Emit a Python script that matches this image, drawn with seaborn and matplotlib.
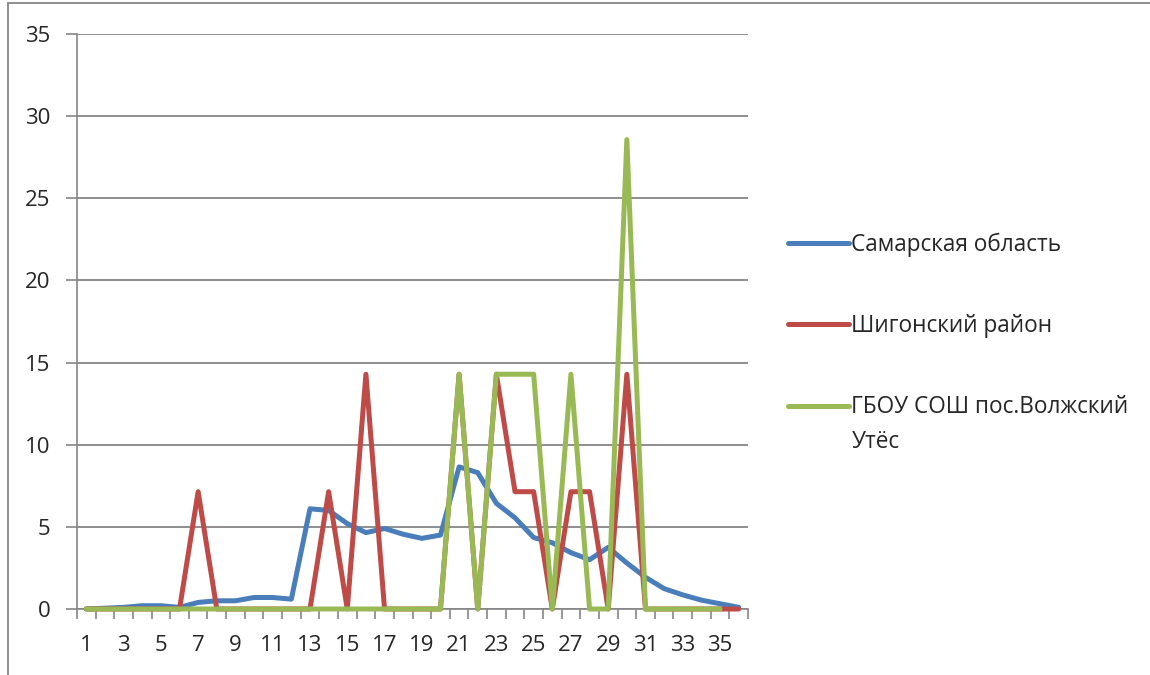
import numpy as np
import matplotlib
matplotlib.use('Agg')
import matplotlib.pyplot as plt
import matplotlib.patches as mpatches
import pandas as pd
import seaborn as sns

sns.set_style('white')
plt.rcParams['font.family'] = ['Open Sans', 'DejaVu Sans']

days = list(range(1, 37))
samara = [0.0, 0.05, 0.1, 0.2, 0.2, 0.1, 0.4, 0.5, 0.5, 0.7, 0.7, 0.6,
          6.1, 6.0, 5.2, 4.65, 4.9, 4.55, 4.3, 4.5, 8.65, 8.3, 6.43, 5.55,
          4.35, 4.03, 3.43, 3.0, 3.75, 2.8, 1.93, 1.24, 0.86, 0.54, 0.32, 0.1]
shigony = [0, 0, 0, 0, 0, 0, 7.14, 0, 0, 0, 0, 0,
           0, 7.14, 0, 14.29, 0, 0, 0, 0, 14.29, 0, 14.29, 7.14,
           7.14, 0, 7.14, 7.14, 0, 14.29, 0, 0, 0, 0, 0, 0]
school = [0, 0, 0, 0, 0, 0, 0, 0, 0, 0, 0, 0,
          0, 0, 0, 0, 0, 0, 0, 0, 14.29, 0, 14.29, 14.29,
          14.29, 0, 14.29, 0, 0, 28.57, 0, 0, 0, 0, 0]

labels = ['Самарская область', 'Шигонский район', 'ГБОУ СОШ пос.Волжский']
label_tail = 'Утёс'
colors = ['#4A7EBB', '#BE4B48', '#98B954']

fig = plt.figure(figsize=(11.5, 6.75), dpi=100)
ax = fig.add_axes([77 / 1150, 1 - 609 / 675, (748 - 77) / 1150, (609 - 34) / 675])

series = [samara, shigony, school]
for vals, lab, col in zip(series, labels, colors):
    df = pd.DataFrame({'x': days[:len(vals)], 'y': vals})
    sns.lineplot(data=df, x='x', y='y', ax=ax, color=col, linewidth=3.6,
                 label=lab, solid_joinstyle='round', solid_capstyle='round',
                 clip_on=False, zorder=3)

grid = '#868686'
ax.set_xlim(0.5, 36.5)
ax.set_ylim(0, 35)
ax.set_yticks(range(0, 36, 5))
ax.yaxis.grid(True, color=grid, linewidth=1.3)
ax.set_axisbelow(True)
ax.set_xticks(np.arange(0.5, 37, 1))
ax.set_xticklabels([])
ax.set_xticks(days[::2], minor=True)
ax.set_xticklabels([str(d) for d in days[::2]], minor=True)
ax.tick_params(axis='x', which='major', direction='out', length=7, width=1.2,
               color=grid, bottom=True)
ax.tick_params(axis='x', which='minor', length=0, pad=19, labelsize=16)
ax.tick_params(axis='y', direction='out', length=8, width=1.2, color=grid,
               left=True, pad=11, labelsize=16)
ax.set_xlabel('')
ax.set_ylabel('')
for s in ['top', 'right']:
    ax.spines[s].set_visible(False)
for s in ['left', 'bottom']:
    ax.spines[s].set_color(grid)
    ax.spines[s].set_linewidth(1.2)

h, l = ax.get_legend_handles_labels()
leg = ax.legend(h, l, loc='upper left', bbox_to_anchor=(788 / 1150, 1 - 233 / 675),
                bbox_transform=fig.transFigure, frameon=False, fontsize=16.3,
                handlelength=2.7, handletextpad=0.1, labelspacing=2.52,
                borderpad=0, borderaxespad=0)

# second line of the last legend label, placed under the first line
fig.canvas.draw()
bb = leg.get_texts()[-1].get_window_extent().transformed(fig.transFigure.inverted())
fig.text(bb.x0, (bb.y0 + bb.y1) / 2 - 35 / 675, label_tail, va='center',
         ha='left', fontsize=16.3)

fig.patches.append(mpatches.Rectangle((8 / 1150, -0.1), 1.2, 1.1 - 3 / 675,
                                      transform=fig.transFigure, fill=False,
                                      edgecolor='#868686', linewidth=1.3))

fig.savefig('out.png', dpi=100)
